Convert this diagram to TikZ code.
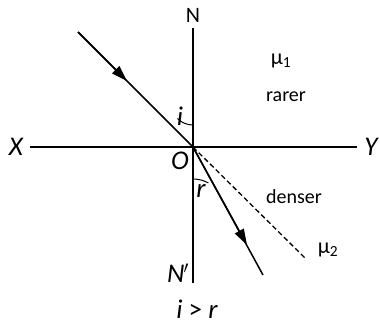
\documentclass[tikz,border=0pt]{standalone}
\usepackage{fontspec}
\setmainfont{Carlito}
\usetikzlibrary{arrows.meta}
\begin{document}
\begin{tikzpicture}[x=1pt,y=-1pt,
  ln/.style={line width=1.3pt},
  ray/.style={line width=1.5pt},
  arr/.style={-{Triangle[length=16pt,width=10pt]}},
  big/.style={font=\fontsize{27}{29}\selectfont\itshape},
  txt/.style={font=\fontsize{20}{22}\selectfont},
  arc/.style={line width=1pt}]
\useasboundingbox (0,0) rectangle (380,324);
\coordinate (O) at (193,147);
\coordinate (Ntop) at (193,28);
\coordinate (Nbot) at (193,283);
\coordinate (Xl) at (30,147);
\coordinate (Yr) at (357,147);
\coordinate (A) at (78,32);
\coordinate (Am) at (127,81);
\coordinate (B) at (263,275);
\coordinate (Bm) at (247,245);
\coordinate (D) at (305,258);
\draw[ln] (Ntop) -- (Nbot);
\draw[ln] (Xl) -- (Yr);
\draw[ray] (A) -- (O);
\draw[ray,arr] (A) -- (Am);
\draw[ray] (O) -- (B);
\draw[ray,arr] (O) -- (Bm);
\draw[ln,dashed,dash pattern=on 5pt off 3pt] (O) -- (D);
\draw[arc] (193,125) arc[start angle=90,end angle=135,radius=22];
\draw[arc] (193,179) arc[start angle=-90,end angle=-61.3,radius=32];
\node[font=\fontsize{22}{24}\selectfont] (N) at (193,15) {N};
\node[big] (Np) at (178,273) {N\kern-1pt$'$};
\node[big] (X) at (16,147) {X};
\node[big] (Y) at (371,147) {Y};
\node[big] (Ol) at (180,161) {O};
\node[big] (il) at (180,116) {i};
\node[big] (rl) at (201,191) {r};
\node[font=\fontsize{22}{24}\selectfont] (m1) at (281,61) {μ\textsubscript{1}};
\node[txt] (rarer) at (286,97) {rarer};
\node[txt] (denser) at (294,197) {denser};
\node[font=\fontsize{22}{24}\selectfont] (m2) at (328,250) {μ\textsubscript{2}};
\node[big] (ir) at (197,309) {i \upshape\textgreater\itshape\ r};
\end{tikzpicture}
\end{document}
